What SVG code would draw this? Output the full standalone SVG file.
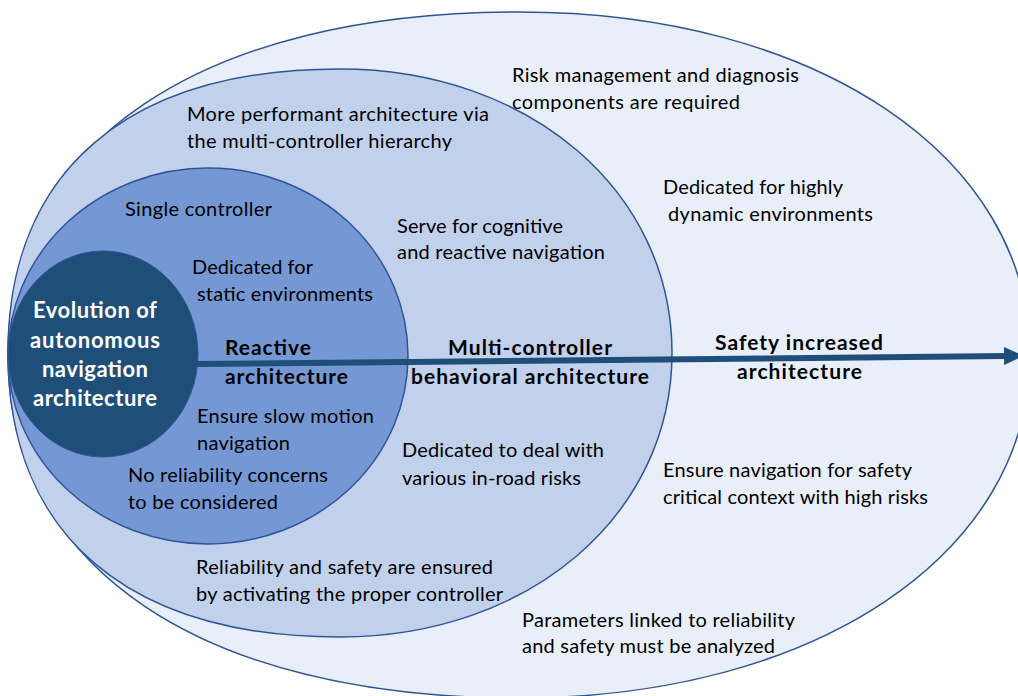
<svg xmlns="http://www.w3.org/2000/svg" width="1018" height="696" viewBox="0 0 1018 696">
<style>
.el{stroke:#2f5597;stroke-width:1.5}
.t{font-family:Lato,"Liberation Sans",sans-serif;font-size:20px;fill:#000}
.b{font-family:Lato,"Liberation Sans",sans-serif;font-size:21px;font-weight:bold;fill:#000}
.w{font-family:Lato,"Liberation Sans",sans-serif;font-size:22px;font-weight:bold;fill:#fff;text-anchor:middle}
</style>
<defs>
<marker id="ah" markerUnits="userSpaceOnUse" markerWidth="22" markerHeight="20" refX="2" refY="10" orient="auto">
<path d="M0,1 L20,10 L0,19 Z" fill="#1f4e79"/>
</marker>
</defs>
<rect width="1018" height="696" fill="#fff"/>
<g id="safety">
<path class="el" fill="#e9eff9" d="M8,355 C8,142.3 202.2,12 519,12 C815.4,12 1030,156.1 1030,355 C1030,553.9 815.4,698 519,698 C202.2,698 8,567.7 8,355 Z"/>
<text class="t" x="512" y="82" textLength="287">Risk management and diagnosis</text>
<text class="t" x="512" y="109" textLength="228">components are required</text>
<text class="t" x="663" y="194" textLength="180">Dedicated for highly</text>
<text class="t" x="668" y="221" textLength="205">dynamic environments</text>
<text class="b" x="715" y="350" textLength="168">Safety increased</text>
<text class="b" x="737" y="379" textLength="125">architecture</text>
<text class="t" x="663" y="477" textLength="249">Ensure navigation for safety</text>
<text class="t" x="663" y="504" textLength="265">critical context with high risks</text>
<text class="t" x="522" y="627" textLength="273">Parameters linked to reliability</text>
<text class="t" x="522" y="653" textLength="253">and safety must be analyzed</text>
</g>
<g id="multi">
<path class="el" fill="#c2d1eb" d="M8,353 C8,171.2 127.5,69 340,69 C529.2,69 672,191.1 672,353 C672,514.9 529.2,637 340,637 C127.5,637 8,534.8 8,353 Z"/>
<text class="t" x="187" y="121" textLength="302">More performant architecture via</text>
<text class="t" x="187" y="148" textLength="265">the multi-controller hierarchy</text>
<text class="t" x="397" y="233" textLength="166">Serve for cognitive</text>
<text class="t" x="397" y="259" textLength="208">and reactive navigation</text>
<text class="b" x="448" y="355" textLength="164">Multi-controller</text>
<text class="b" x="411" y="384" textLength="238">behavioral architecture</text>
<text class="t" x="402" y="457" textLength="202">Dedicated to deal with</text>
<text class="t" x="402" y="485" textLength="179">various in-road risks</text>
<text class="t" x="196" y="574" textLength="297">Reliability and safety are ensured</text>
<text class="t" x="196" y="601" textLength="307">by activating the proper controller</text>
</g>
<g id="reactive">
<ellipse class="el" cx="208" cy="356" rx="200" ry="188" fill="#7598d5"/>
<text class="t" x="125" y="216" textLength="147">Single controller</text>
<text class="t" x="192" y="274" textLength="121">Dedicated for</text>
<text class="t" x="197" y="301" textLength="176">static environments</text>
<text class="b" x="225" y="355" textLength="86">Reactive</text>
<text class="b" x="225" y="384" textLength="123">architecture</text>
<text class="t" x="197" y="423" textLength="177">Ensure slow motion</text>
<text class="t" x="197" y="450" textLength="93">navigation</text>
<text class="t" x="128" y="482" textLength="200">No reliability concerns</text>
<text class="t" x="128" y="509" textLength="150">to be considered</text>
</g>
<g id="evolution">
<ellipse cx="103" cy="354" rx="95" ry="103" fill="#1f4e79" stroke="#2f5597" stroke-width="1"/>
<text class="w" x="95" y="318" textLength="124">Evolution of</text>
<text class="w" x="95" y="348" textLength="130">autonomous</text>
<text class="w" x="95" y="377" textLength="106">navigation</text>
<text class="w" x="95" y="406" textLength="124">architecture</text>
</g>
<g id="connectors">
<line x1="197" y1="364" x2="1006" y2="356" stroke="#1f4e79" stroke-width="6" marker-end="url(#ah)"/>
</g>
</svg>
